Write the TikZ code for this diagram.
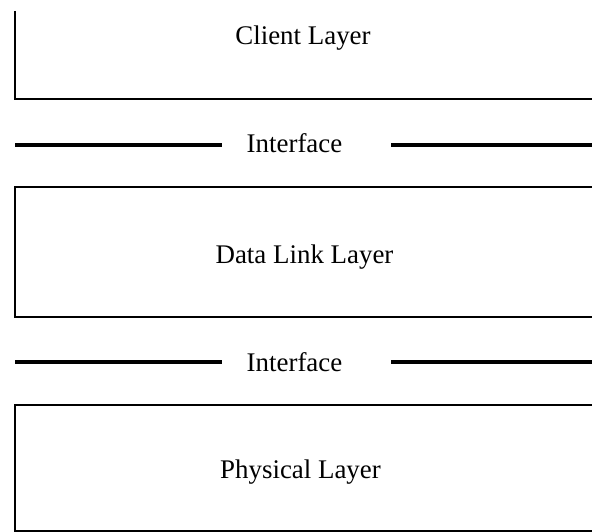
\documentclass[tikz,border=0pt]{standalone}
\usepackage{fontspec}
\setmainfont{Liberation Serif}
\begin{document}
\begin{tikzpicture}[x=1bp,y=-1bp,
  boxline/.style={line width=1.8bp},
  ifline/.style={line width=3.6bp},
  lbl/.style={anchor=base,inner sep=0pt,font=\fontsize{27}{30}\selectfont}]
\useasboundingbox (0,0) rectangle (592,532);
% Client layer
\node[lbl] (client) at (303,45) {Client Layer};
\draw[boxline] (15,11) -- (15,99) -- (592,99);
% Interface 1
\node[lbl] (if1) at (294.5,153) {Interface};
\coordinate (if1l) at (15,145);
\coordinate (if1le) at (222,145);
\coordinate (if1rs) at (391,145);
\coordinate (if1r) at (592,145);
\draw[ifline] (if1l) -- (if1le);
\draw[ifline] (if1rs) -- (if1r);
% Data link layer
\node[lbl] (dll) at (304.5,263) {Data Link Layer};
\draw[boxline] (592,187) -- (15,187) -- (15,317) -- (592,317);
% Interface 2
\node[lbl] (if2) at (294.5,371) {Interface};
\coordinate (if2l) at (15,362);
\coordinate (if2le) at (222,362);
\coordinate (if2rs) at (391,362);
\coordinate (if2r) at (592,362);
\draw[ifline] (if2l) -- (if2le);
\draw[ifline] (if2rs) -- (if2r);
% Physical layer
\node[lbl] (phy) at (300.5,478) {Physical Layer};
\draw[boxline] (592,405) -- (15,405) -- (15,531) -- (592,531);
\end{tikzpicture}
\end{document}
